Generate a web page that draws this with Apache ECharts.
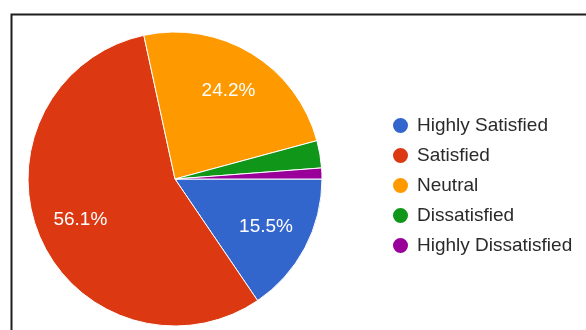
<!DOCTYPE html>
<html>
<head>
<meta charset="utf-8">
<script src="https://cdn.jsdelivr.net/npm/echarts@6/dist/echarts.min.js"></script>
<style>
  html, body { margin: 0; padding: 0; background: #fff; }
  #chart { width: 586px; height: 330px; filter: blur(0.5px); }
</style>
</head>
<body>
<div id="chart"></div>
<script>
// Survey satisfaction breakdown (percent of responses)
const categories = ['Highly Satisfied', 'Satisfied', 'Neutral', 'Dissatisfied', 'Highly Dissatisfied'];
const shares = [15.5, 56.1, 24.2, 3.0, 1.2];
const colors = ['#3366cc', '#dc3912', '#ff9900', '#109618', '#990099'];
// slices below this share carry no in-slice label
const labelMinShare = 5;

const center = [175, 179];
const outerR = 147;

const sliceData = categories.map((name, i) => ({
  name: name,
  value: shares[i],
  itemStyle: { color: colors[i] }
}));

// A transparent ring sharing the same angles, used only to place the
// percentage labels about two thirds of the way out from the centre.
const labelData = categories.map((name, i) => ({
  name: name,
  value: shares[i],
  label: { show: shares[i] >= labelMinShare }
}));

const chart = echarts.init(document.getElementById('chart'), null, { renderer: 'canvas' });
chart.setOption({
  animation: false,
  backgroundColor: '#ffffff',
  graphic: [{
    type: 'rect',
    left: 9, top: 12,
    shape: { width: 620, height: 360 },
    style: { fill: 'none', stroke: '#1e1e1e', lineWidth: 2 },
    silent: true,
    z: 100
  }],
  legend: {
    orient: 'vertical',
    left: 386,
    top: 111,
    icon: 'circle',
    itemWidth: 17,
    itemHeight: 17,
    itemGap: 11,
    data: categories.map((name, i) => ({ name: name, itemStyle: { color: colors[i] } })),
    textStyle: {
      fontFamily: 'Liberation Sans, Arial, sans-serif',
      fontSize: 19,
      color: '#2a2a2a',
      padding: [0, 0, 0, 3]
    },
    selectedMode: false
  },
  series: [
    {
      type: 'pie',
      center: center,
      radius: outerR,
      startAngle: 0,
      clockwise: true,
      data: sliceData,
      label: { show: false },
      labelLine: { show: false },
      itemStyle: { borderColor: '#ffffff', borderWidth: 1 },
      emphasis: { disabled: true },
      silent: true
    },
    {
      type: 'pie',
      center: center,
      radius: [53, outerR],
      startAngle: 0,
      clockwise: true,
      data: labelData,
      itemStyle: { color: 'rgba(0,0,0,0)' },
      label: {
        position: 'inside',
        formatter: p => p.value.toFixed(1) + '%',
        color: '#ffffff',
        fontFamily: 'Liberation Sans, Arial, sans-serif',
        fontSize: 19
      },
      labelLine: { show: false },
      emphasis: { disabled: true },
      silent: true,
      z: 3
    }
  ]
});
</script>
</body>
</html>
